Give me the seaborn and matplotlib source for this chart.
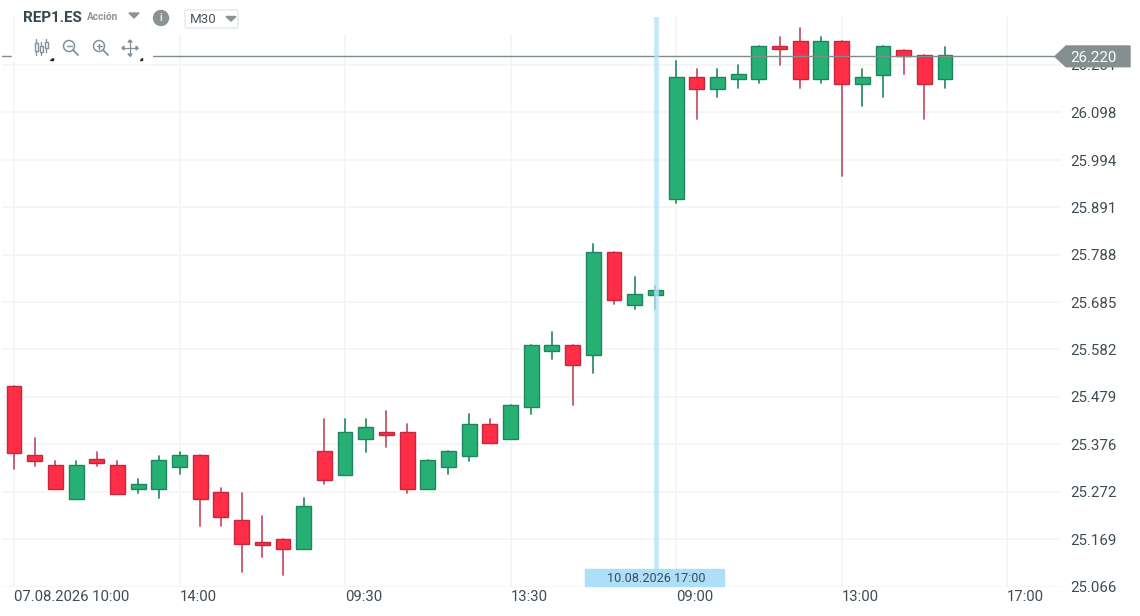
"""
plot.py - REP1.ES M30 candlestick chart
"""

import matplotlib
matplotlib.use("Agg")
import matplotlib.pyplot as plt
from matplotlib.patches import Circle, Polygon, Rectangle, FancyBboxPatch
import pandas as pd
import seaborn as sns

FONT = "Roboto"
TEXT_DARK = "#3f4c53"
BAR_STEP = 20.69  # pixels between two candles

opens = [25.502, 25.353, 25.330, 25.256, 25.343, 25.330, 25.278, 25.278, 25.327, 25.352,
         25.271, 25.211, 25.162, 25.170, 25.148, 25.361, 25.308, 25.387, 25.402, 25.402,
         25.278, 25.327, 25.349, 25.420, 25.387, 25.457, 25.578, 25.592, 25.569, 25.793,
         25.678, 25.700, 25.909, 26.174, 26.149, 26.170, 26.170, 26.242, 26.253, 26.170,
         26.253, 26.160, 26.179, 26.234, 26.223, 26.170]
closes = [25.357, 25.339, 25.278, 25.330, 25.335, 25.267, 25.290, 25.342, 25.353, 25.256,
          25.218, 25.158, 25.156, 25.148, 25.241, 25.297, 25.402, 25.413, 25.395, 25.278,
          25.341, 25.361, 25.420, 25.379, 25.462, 25.592, 25.592, 25.548, 25.793, 25.689,
          25.703, 25.711, 26.174, 26.149, 26.174, 26.182, 26.242, 26.235, 26.170, 26.253,
          26.160, 26.174, 26.242, 26.221, 26.160, 26.223]
highs = [25.502, 25.389, 25.340, 25.340, 25.359, 25.340, 25.299, 25.351, 25.359, 25.352,
         25.280, 25.269, 25.220, 25.170, 25.258, 25.430, 25.430, 25.430, 25.449, 25.419,
         25.341, 25.361, 25.441, 25.430, 25.462, 25.592, 25.620, 25.592, 25.811, 25.793,
         25.740, 25.720, 26.210, 26.192, 26.192, 26.202, 26.242, 26.262, 26.281, 26.262,
         26.253, 26.192, 26.242, 26.234, 26.223, 26.240]
lows = [25.321, 25.329, 25.278, 25.256, 25.329, 25.267, 25.270, 25.259, 25.310, 25.198,
        25.198, 25.098, 25.131, 25.090, 25.148, 25.288, 25.308, 25.359, 25.370, 25.270,
        25.278, 25.310, 25.340, 25.379, 25.387, 25.441, 25.561, 25.460, 25.530, 25.680,
        25.669, 25.669, 25.900, 26.083, 26.132, 26.150, 26.161, 26.202, 26.150, 26.161,
        25.960, 26.112, 26.132, 26.181, 26.083, 26.150]

y_ticks = [25.066, 25.169, 25.272, 25.376, 25.479, 25.582, 25.685, 25.788, 25.891, 25.994, 26.098, 26.201]
x_tick_pos = [0, 8, 16, 24, 32, 40, 48]
x_tick_labels = ["07.08.2026 10:00", "14:00", "09:30", "13:30", "09:00", "13:00", "17:00"]
last_price = 26.220
cursor_index = 31
cursor_label = "10.08.2026 17:00"

df = pd.DataFrame({"idx": range(len(opens)), "open": opens, "close": closes,
                   "high": highs, "low": lows})
df["bottom"] = df[["open", "close"]].min(axis=1)
df["height"] = (df["open"] - df["close"]).abs()
df["dir"] = ["up" if c >= o else "down" for o, c in zip(opens, closes)]

sns.set_theme(style="white")
plt.rcParams["font.family"] = [FONT, "DejaVu Sans"]

fig = plt.figure(figsize=(11.4, 6.16), dpi=100)
# axes box in pixels: x 2..1061, y 17..586.5
ax = fig.add_axes([2 / 1140, (616 - 586.5) / 616, 1059 / 1140, 569.5 / 616])
ax.set_facecolor("white")

# wicks
wicks = df.melt(id_vars=["idx", "dir"], value_vars=["low", "high"], value_name="price")
sns.lineplot(data=wicks, x="idx", y="price", hue="dir", units="idx", estimator=None,
             palette={"up": "#2f8f6c", "down": "#c4566a"}, linewidth=1.3, legend=False,
             zorder=3, ax=ax)

# bodies
for name, face, edge in [("up", "#27b074", "#1f8560"), ("down", "#ff2d46", "#c4283f")]:
    sub = df[df["dir"] == name]
    sns.barplot(x=sub["idx"].values, y=sub["height"].values, bottom=sub["bottom"].values,
                native_scale=True, width=0.72, color=face, saturation=1, edgecolor=edge,
                linewidth=1.0, zorder=4, ax=ax)

ax.set_xlim(-12 / BAR_STEP, 1047 / BAR_STEP)
ax.set_ylim(25.066, 25.066 + 569.5 / 459.5)
ax.set_xticks(x_tick_pos)
ax.set_xticklabels(x_tick_labels, ha="left", fontsize=10.7, color=TEXT_DARK)
ax.set_yticks(y_ticks)
ax.set_yticklabels([f"{v:.3f}" for v in y_ticks], fontsize=10.8, color=TEXT_DARK)
ax.yaxis.tick_right()
ax.tick_params(axis="both", length=0)
ax.tick_params(axis="y", pad=7)
ax.tick_params(axis="x", pad=2.5)
ax.set_xlabel("")
ax.set_ylabel("")
ax.grid(True, color="#f3f5f7", linewidth=1.2)
ax.set_axisbelow(True)
sns.despine(ax=ax, left=True, right=True, top=True, bottom=True)

# last price line and crosshair band
ax.axhline(last_price, color="#7f8c8d", linewidth=1, xmax=1053 / 1059, zorder=5)
ax.axvline(cursor_index + 0.05, color="#b5e3fa", linewidth=3.4, alpha=0.8, zorder=6)

# overlay in pixel coordinates for the chrome around the chart
ov = fig.add_axes([0, 0, 1, 1], facecolor="none")
ov.set_xlim(0, 1140)
ov.set_ylim(616, 0)
ov.axis("off")

# white strips hide the top of the chart behind the header and the toolbar
ov.add_patch(Rectangle((16, 0), 634, 33, color="white", zorder=1))
ov.add_patch(Rectangle((16, 33), 136, 30, color="white", zorder=1))
ov.add_patch(Rectangle((12, 54), 4, 6, color="white", zorder=1))
ov.add_patch(Polygon([(50, 60), (52.5, 60), (52.5, 57.5)], color="#222222", zorder=2))
ov.add_patch(Polygon([(139.5, 60), (142, 60), (142, 57.5)], color="#222222", zorder=2))

ov.text(23.5, 17.5, "REP1.ES", fontsize=10.9, fontweight="bold", color="#37474f", va="center", zorder=3)
ov.text(87, 17.5, "Acción", fontsize=7.2, fontweight="bold", color="#8b9296", va="center", zorder=3)
ov.add_patch(Polygon([(129, 13), (139, 13), (134, 18)], color="#8b9296", zorder=3))
ov.add_patch(Circle((161, 18), 7.5, color="#8b9296", zorder=3))
ov.text(161, 18.3, "i", fontsize=7.5, fontweight="bold", color="#e6e8ea", ha="center", va="center", zorder=4)
ov.add_patch(FancyBboxPatch((185, 10), 53, 18, boxstyle="round,pad=0,rounding_size=1.5",
                            fc="white", ec="#e6e8ea", lw=1, zorder=3))
ov.text(190, 19.8, "M30", fontsize=9.6, color="#4a565c", va="center", zorder=4)
ov.add_patch(Polygon([(226, 16.5), (236, 16.5), (231, 21)], color="#8b9296", zorder=4))

# toolbar icons
ICON = "#84919a"
for cx, top, bot, y0, y1 in [(36, 39, 55, 43, 51), (41, 42, 55, 46, 52), (46, 39, 52, 42, 48)]:
    ov.plot([cx, cx], [top, bot], color=ICON, lw=1, zorder=3)
    ov.add_patch(Rectangle((cx - 1.5, y0), 3, y1 - y0, fc="white", ec=ICON, lw=1, zorder=4))
for cx, plus in [(69, False), (99, True)]:
    ov.add_patch(Circle((cx, 46), 5.5, fc="none", ec=ICON, lw=1.1, zorder=3))
    ov.plot([cx + 4, cx + 9], [50, 55], color=ICON, lw=1.3, zorder=3)
    ov.plot([cx - 2.5, cx + 2.5], [46, 46], color=ICON, lw=1, zorder=3)
    if plus:
        ov.plot([cx, cx], [43.5, 48.5], color=ICON, lw=1, zorder=3)
ov.plot([122, 138], [48, 48], color=ICON, lw=0.9, zorder=3)
ov.plot([130, 130], [40, 56], color=ICON, lw=0.9, zorder=3)
for px, py, dx, dy in [(122, 48, 2, 0), (138, 48, -2, 0), (130, 40, 0, 2), (130, 56, 0, -2)]:
    ov.add_patch(Polygon([(px, py), (px + dx + dy, py + dy + dx), (px + dx - dy, py + dy - dx)],
                         color=ICON, zorder=3))

# last price tag
ov.add_patch(Polygon([(1055, 56.5), (1066, 46), (1130, 46), (1130, 66.7), (1066, 66.7)],
                     color="#858f90", zorder=3))
ov.text(1070, 57.5, f"{last_price:.3f}", fontsize=10.8, color="white", va="center", zorder=4)

# crosshair date label
ov.add_patch(Rectangle((585, 569), 139, 17, color="#aedff8", zorder=3))
ov.text(656, 578, cursor_label, fontsize=9.1, color=TEXT_DARK, ha="center", va="center", zorder=4)

fig.savefig("out.png", dpi=100)
